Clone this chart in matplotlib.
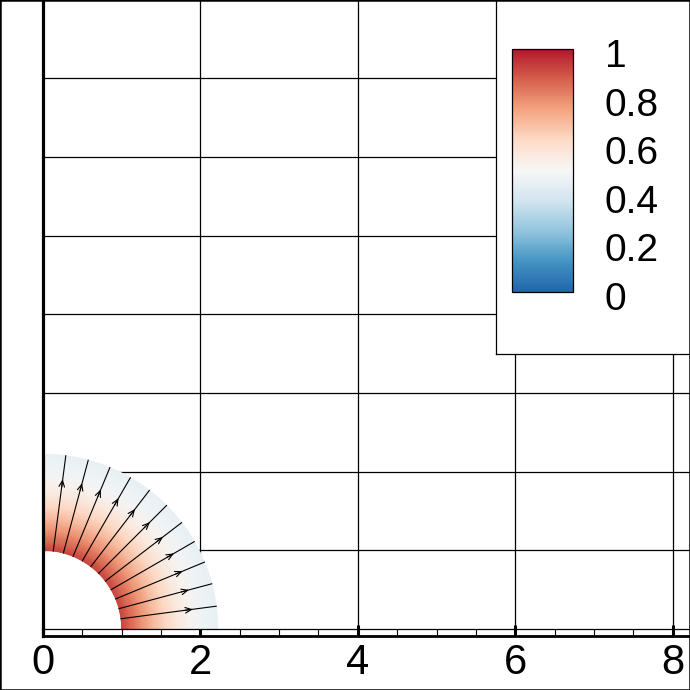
import numpy as np
import matplotlib
matplotlib.use("Agg")
import matplotlib.pyplot as plt
import matplotlib.transforms as mtransforms
from matplotlib.colors import LinearSegmentedColormap
from matplotlib.patches import Rectangle

plt.rcParams['font.family'] = ['Liberation Sans', 'DejaVu Sans']

# --- data ---
# radial profile of the field across the annulus (value vs radius)
radii = [1.0, 1.1, 1.25, 1.4, 1.55, 1.7, 1.85, 2.0, 2.22]
field = [0.92, 0.86, 0.78, 0.70, 0.63, 0.57, 0.52, 0.48, 0.45]
# streamline angles (deg) and the radius where the arrow head sits
stream_angles = [7.5, 15, 22.5, 30, 37.5, 45, 52.5, 60, 67.5, 75, 82.5]
arrow_r = 1.87
# mesh / grid lines
grid_x = [2, 4, 6, 8]
grid_y = [0, 1, 2, 3, 4, 5, 6, 7]
xticks = [0, 2, 4, 6, 8]
cbar_ticks = [0, 0.2, 0.4, 0.6, 0.8, 1]
cbar_labels = ['0', '0.2', '0.4', '0.6', '0.8', '1']

# colorbrewer RdBu (9 class), reversed
rdbu = ['#2166ac', '#4393c3', '#92c5de', '#d1e5f0', '#f7f7f7',
        '#fddbc7', '#f4a582', '#d6604d', '#b2182b']
cmap = LinearSegmentedColormap.from_list('rdbu9', rdbu)

W = 690.0
fig = plt.figure(figsize=(6.9, 6.9), dpi=100)

# main axes: x=0 at px 43, spine at px 636 from top, 78.7 px per unit
s = 78.7
ax = fig.add_axes([43 / W, 54 / W, (W - 43) / W, (W - 54) / W])
ax.set_xlim(0, (W - 43) / s)
ax.set_ylim(-7 / s, -7 / s + (W - 54) / s)

for gx in grid_x:
    ax.axvline(gx, color='k', lw=0.9, zorder=1)
for gy in grid_y:
    ax.axhline(gy, color='k', lw=0.9, zorder=1 if gy else 4)

# annulus field
th = np.linspace(0, np.pi / 2, 91)
R, T = np.meshgrid(radii, th)
C = np.tile(field, (len(th), 1))
ax.pcolormesh(R * np.cos(T), R * np.sin(T), C, cmap=cmap, vmin=0, vmax=1,
              shading='gouraud', zorder=2)

# streamlines with arrows
for a in stream_angles:
    t = np.deg2rad(a)
    ax.plot([radii[0] * np.cos(t), radii[-1] * np.cos(t)],
            [radii[0] * np.sin(t), radii[-1] * np.sin(t)],
            color='k', lw=0.8, zorder=3)
    ax.annotate('', xy=((arrow_r + 0.05) * np.cos(t), (arrow_r + 0.05) * np.sin(t)),
                xytext=((arrow_r - 0.05) * np.cos(t), (arrow_r - 0.05) * np.sin(t)),
                arrowprops=dict(arrowstyle='->,head_length=0.45,head_width=0.2',
                                color='k', lw=0.8, shrinkA=0, shrinkB=0),
                zorder=3)

for side in ['top', 'right']:
    ax.spines[side].set_visible(False)
ax.spines['left'].set_linewidth(2.3)
ax.spines['bottom'].set_linewidth(2.0)
ax.set_yticks([])
ax.set_xticks(xticks)
ax.set_xticklabels([str(v) for v in xticks])
ax.set_xticks(np.arange(0, 8.01, 0.5), minor=True)
ax.tick_params(axis='x', which='major', direction='in', length=8, width=2.2,
               labelsize=30, pad=5)
ax.tick_params(axis='x', which='minor', direction='in', length=5, width=0.8)

# legend panel (white box) with colour bar
box = fig.add_axes([496 / W, (W - 354) / W, 1, 1])
box.set_xticks([])
box.set_yticks([])
box.set_facecolor('white')
for sp in box.spines.values():
    sp.set_linewidth(0.9)
box.set_zorder(5)

cax = fig.add_axes([512 / W, (W - 292) / W, 61 / W, 243 / W])
cax.set_zorder(6)
sm = plt.cm.ScalarMappable(cmap=cmap, norm=plt.Normalize(0, 1))
cb = fig.colorbar(sm, cax=cax, ticks=cbar_ticks)
cb.ax.set_yticklabels(cbar_labels)
cb.outline.set_linewidth(0.9)
cb.ax.tick_params(length=0, labelsize=28, pad=23)
shift = mtransforms.ScaledTranslation(0, -4 / 100, fig.dpi_scale_trans)
for lbl in cb.ax.get_yticklabels():
    lbl.set_transform(lbl.get_transform() + shift)

# outer frame of the picture
fig.patches.append(Rectangle((0, 0), 1, 1, transform=fig.transFigure,
                             fill=False, ec='k', lw=1.8, zorder=20))

fig.savefig('out.png', dpi=100)
